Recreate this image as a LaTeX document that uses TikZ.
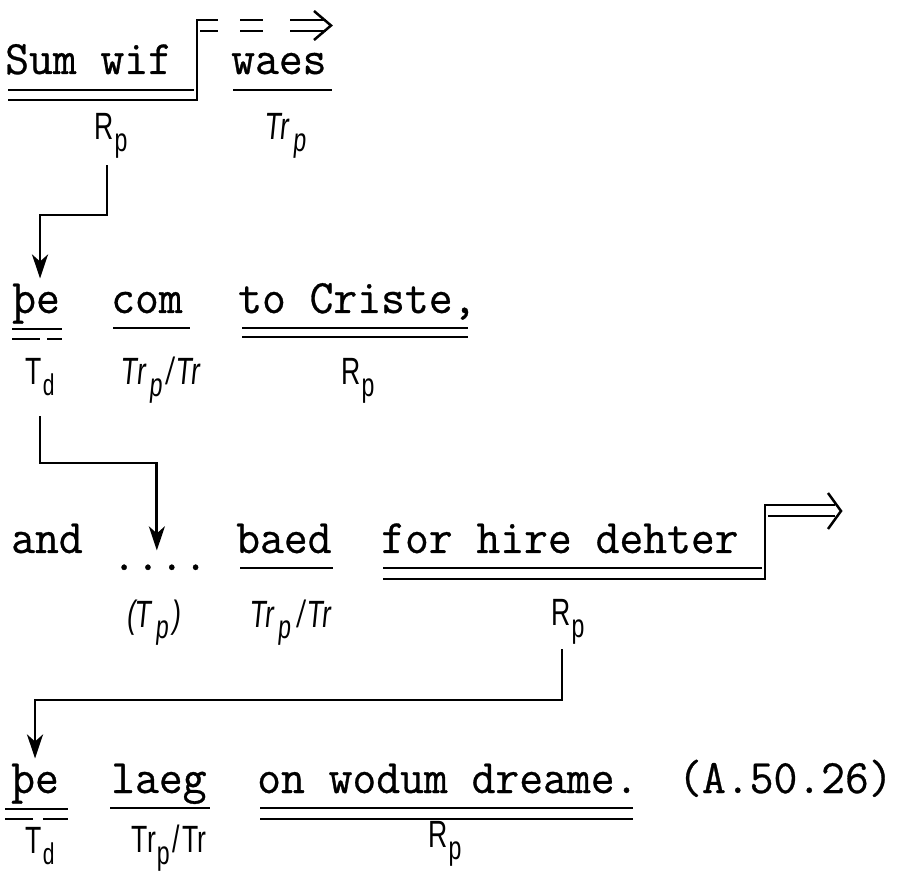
\documentclass[tikz,border=0pt]{standalone}
\usepackage{fontspec}
\usetikzlibrary{arrows.meta}
\newfontfamily\twfont[FakeStretch=0.964,FakeBold=0.6]{Latin Modern Mono}
\newfontfamily\labfont[FakeStretch=0.7]{Liberation Sans}
\newfontfamily\labslfont[FakeStretch=0.7,FakeSlant=0.1]{Liberation Sans}
\newcommand{\sbp}[1]{\kern1pt\raisebox{-12pt}{\fontsize{33}{33}\selectfont #1}}
\newcommand{\sbps}[1]{\kern4pt\raisebox{-12pt}{\fontsize{33}{33}\selectfont #1}}
\newcommand{\sbd}[1]{\kern1pt\raisebox{-11pt}{\fontsize{30}{30}\selectfont #1}}
\tikzset{
  word/.style={anchor=base west, inner sep=0pt, font=\twfont\fontsize{48}{58}\selectfont},
  lab/.style={anchor=base, inner sep=0pt, font=\labfont\fontsize{38}{40}\selectfont},
  labsl/.style={anchor=base, inner sep=0pt, font=\labslfont\fontsize{38}{40}\selectfont},
  ul/.style={line width=2.4pt},
  chev/.style={line width=2.5pt, line join=miter},
  conn/.style={line width=2.8pt, -{Stealth[length=24pt,width=16pt,inset=7pt]}}
}
\begin{document}
\begin{tikzpicture}[x=1pt,y=-1pt]
\useasboundingbox (0,0) rectangle (898,874);
% ---------- row 1
\node[word] (sw1) at (5,74) {Sum wif};
\node[word] (wa1) at (231,74) {waes};
\node[lab] (rp1) at (111,140) {R\sbp{p}};
\node[labsl] (tr1) at (285,140) {Tr\sbps{p}};
\draw[ul] (8,90) -- (194,90);
\draw[ul] (8,100) -- (197,100) -- (197,20) -- (218,20);
\draw[ul] (200,31) -- (218,31);
\draw[ul] (240,20) -- (263,20) (240,31) -- (263,31);
\draw[ul] (290,20) -- (326,20) (290,31) -- (326,31);
\draw[chev] (314,11) -- (331,25.5) -- (314,40);
\draw[ul] (233,90) -- (332,90);
% ---------- row 2
\node[word] (pe2) at (12,313) {þe};
\node[word] (co2) at (111,313) {com};
\node[word] (cr2) at (238,313) {to Criste,};
\node[lab] (td2) at (40,385) {T\sbd{d}};
\node[labsl] (tr2) at (160,385) {Tr\sbps{p}\kern4pt/\kern2pt Tr};
\node[lab] (rp2) at (358,385) {R\sbp{p}};
\draw[ul] (12,329) -- (62,329);
\draw[ul] (12,339) -- (40,339) (47,339) -- (62,339);
\draw[ul] (113,328) -- (190,328);
\draw[ul] (242,328) -- (468,328) (242,337) -- (468,337);
% ---------- row 3
\node[word] (an3) at (11,553) {and};
\node[word] (dt3) at (112,570) {....};
\node[word] (ba3) at (236,553) {baed};
\node[word] (fo3) at (381,553) {for hire dehter};
\node[labsl] (tp3) at (153,627) {(T\sbps{p}\kern3pt)};
\node[labsl] (tr3) at (290,627) {Tr\sbps{p}\kern6pt/\kern3pt Tr};
\node[lab] (rp3) at (568,626) {R\sbp{p}};
\draw[ul] (240,568) -- (333,568);
\draw[ul] (383,568) -- (762,568);
\draw[ul] (383,579) -- (765,579) -- (765,505) -- (835,505);
\draw[ul] (768,516) -- (835,516);
\draw[chev] (828,493) -- (841,511) -- (828,529);
% ---------- row 4
\node[word] (pe4) at (11,793) {þe};
\node[word] (la4) at (111,793) {laeg};
\node[word] (on4) at (257,793) {on wodum dreame.};
\node[word] (ref4) at (678,793) {(A.50.26)};
\node[lab] (td4) at (40,853) {T\sbd{d}};
\node[lab] (tr4) at (169,852) {Tr\sbp{p}\kern3pt/\kern2pt Tr};
\node[lab] (rp4) at (445,847) {R\sbp{p}};
\draw[ul] (5,809) -- (68,809);
\draw[ul] (5,819) -- (33,819) (43,819) -- (68,819);
\draw[ul] (110,808) -- (210,808);
\draw[ul] (260,808) -- (633,808) (260,819) -- (633,819);
% ---------- connectors
\coordinate (a1) at ([xshift=-4pt,yshift=-6pt]rp1.south);
\coordinate (h1) at (0,215);
\coordinate (b1) at ([xshift=4pt,yshift=5pt]pe2.north);
\draw[conn] (a1) |- (h1 -| b1) -- (b1);
\coordinate (a2) at ([yshift=-20pt]td2.south);
\coordinate (h2) at (0,463);
\coordinate (b2) at ([xshift=-3pt,yshift=14pt]dt3.north);
\draw[conn] (a2) |- (h2 -| b2) -- (b2);
\coordinate (a3) at ([xshift=-6pt,yshift=-4pt]rp3.south);
\coordinate (h3) at (0,700);
\coordinate (b3) at ([yshift=5pt]pe4.north);
\draw[conn] (a3) |- (h3 -| b3) -- (b3);
\end{tikzpicture}
\end{document}
